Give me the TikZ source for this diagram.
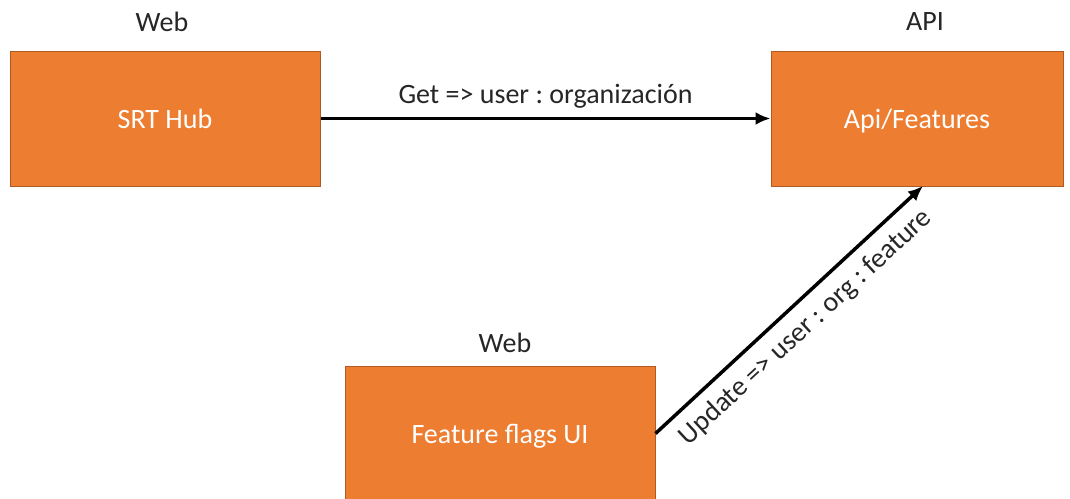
\documentclass[tikz,border=0pt]{standalone}
\usepackage{fontspec}
\setmainfont{Carlito}
\usetikzlibrary{positioning}
\usetikzlibrary{arrows.meta}
\definecolor{orangefill}{HTML}{ED7D31}
\definecolor{orangeline}{HTML}{AE5A21}
\definecolor{labeltext}{HTML}{262626}
\frenchspacing

\begin{document}
\begin{tikzpicture}[
    x=1pt, y=-1pt,
    box/.style={rectangle, draw=orangeline, fill=orangefill, line width=1pt, minimum height=135pt, text depth=0pt, text=white, align=center, font=\fontsize{28}{33}\selectfont},
    tag/.style={text=labeltext, font=\fontsize{28}{33}\selectfont},
    >={Latex[length=15pt, width=13pt]}
]
    \useasboundingbox (0,0) rectangle (1070,498);

    \node[box, minimum width=310pt] (hub) at (165,118.5) {SRT Hub};
    \node[box, minimum width=292pt] (api) at (917,118.5) {Api/Features};
    \node[box, minimum width=310pt] (flags) at (500,433.5) {Feature flags UI};

    \node[tag] (hubtag) at (162,22) {Web};
    \node[tag] (apitag) at (925,22) {API};
    \node[tag] (flagstag) at (505,343) {Web};

    \coordinate (apiin) at (923,186);

    \draw[->, line width=3.5pt] (hub) -- node[tag, above=5pt] {Get => user : organización} (api);
    \draw[->, line width=3.5pt] (flags.east) -- node[tag, below=7pt, sloped] {Update => user : org : feature} (apiin);
\end{tikzpicture}
\end{document}
